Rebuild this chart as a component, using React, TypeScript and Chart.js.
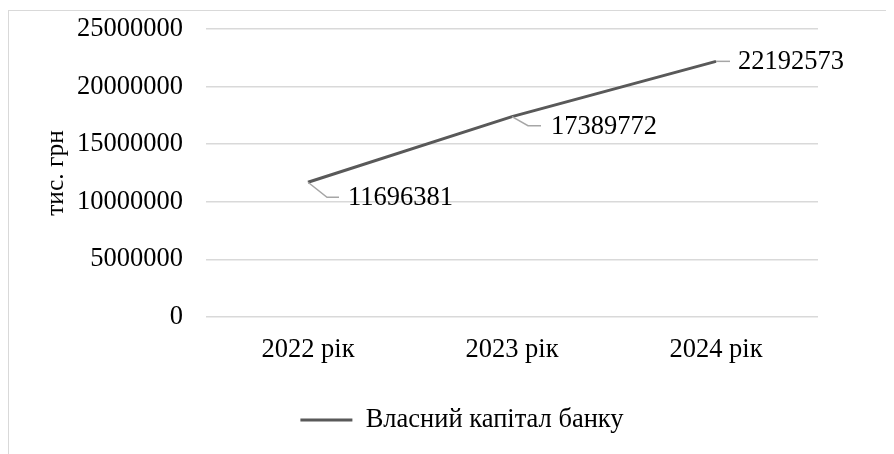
import React, { useEffect, useRef } from "react";
import { Chart, registerables } from "chart.js";

Chart.register(...registerables);

const categories = ["2022 рік", "2023 рік", "2024 рік"];
const capitalValues = [11696381, 17389772, 22192573];
const seriesLabel = "Власний капітал банку";
const yAxisTitle = "тис. грн";
const yMin = 0;
const yMax = 25000000;
const yStep = 5000000;

// label placement (leader line corner + text start), relative to point
const labelOffsets = [
  { bx: 19, by: 15, ex: 31, tx: 40 },
  { bx: 16, by: 9, ex: 29, tx: 39 },
  { bx: 0, by: 0, ex: 14, tx: 22 },
];

const FONT = "'Liberation Serif', 'Times New Roman', serif";
const FS = 26.5;
const LEGEND_SHIFT = 49;

const labelsPlugin = {
  id: "leaderLabels",
  afterLayout(chart: any) {
    if (chart.legend) {
      chart.legend.left += LEGEND_SHIFT;
      chart.legend.right += LEGEND_SHIFT;
    }
  },
  beforeDraw(chart: any) {
    const ctx = chart.ctx;
    ctx.save();
    ctx.strokeStyle = "#d9d9d9";
    ctx.lineWidth = 1;
    ctx.strokeRect(0.5, 2.5, chart.width + 20, chart.height + 20);
    ctx.restore();
  },
  afterDatasetsDraw(chart: any) {
    const ctx = chart.ctx;
    const meta = chart.getDatasetMeta(0);
    const data = chart.data.datasets[0].data as number[];
    ctx.save();
    meta.data.forEach((pt: any, i: number) => {
      const o = labelOffsets[i];
      const x = pt.x;
      const y = pt.y;
      ctx.strokeStyle = "#a6a6a6";
      ctx.lineWidth = 1.5;
      ctx.beginPath();
      ctx.moveTo(x, y);
      ctx.lineTo(x + o.bx, y + o.by);
      ctx.lineTo(x + o.ex, y + o.by);
      ctx.stroke();
      ctx.fillStyle = "#000";
      ctx.font = `${FS}px ${FONT}`;
      ctx.textAlign = "left";
      ctx.textBaseline = "middle";
      ctx.fillText(String(data[i]), x + o.tx, y + o.by + 1);
    });
    ctx.restore();
  },
};

export default function App() {
  const ref = useRef<HTMLCanvasElement>(null);
  useEffect(() => {
    if (!ref.current) return;
    const chart = new Chart(ref.current, {
      type: "line",
      data: {
        labels: categories,
        datasets: [
          {
            label: seriesLabel,
            data: capitalValues,
            borderColor: "#595959",
            backgroundColor: "#595959",
            borderWidth: 3,
            pointRadius: 0,
            tension: 0,
          },
        ],
      },
      options: {
        responsive: false,
        animation: false,
        layout: { padding: { top: 21, left: 0, right: 68, bottom: 10.75 } },
        plugins: {
          tooltip: { enabled: false },
          legend: {
            position: "bottom",
            labels: {
              font: { family: FONT, size: FS },
              color: "#000",
              usePointStyle: true,
              pointStyle: "line",
              pointStyleWidth: 52,
              padding: 10,
            },
          },
        },
        scales: {
          x: {
            offset: true,
            grid: { display: false, drawTicks: false },
            border: { display: false },
            ticks: { font: { family: FONT, size: FS }, color: "#000", padding: 17 },
            afterFit: (s: any) => {
              s.height = 79.75;
            },
          },
          y: {
            min: yMin,
            max: yMax,
            grid: {
              color: "#d9d9d9",
              lineWidth: 1.5,
              drawTicks: true,
              tickLength: 23,
              tickColor: "rgba(0,0,0,0)",
            },
            border: { display: false },
            ticks: {
              stepSize: yStep,
              font: { family: FONT, size: FS },
              color: "#000",
              padding: 0,
              callback: (v: any) => String(v),
            },
            title: {
              display: true,
              text: yAxisTitle,
              font: { family: FONT, size: 25.5 },
              color: "#000",
              padding: { top: 32.7, bottom: 0 },
            },
            afterFit: (s: any) => {
              s.width = 198;
            },
          },
        },
      },
      plugins: [labelsPlugin],
    });
    return () => chart.destroy();
  }, []);
  return <canvas ref={ref} width={878} height={446} style={{ display: "block" }} />;
}
